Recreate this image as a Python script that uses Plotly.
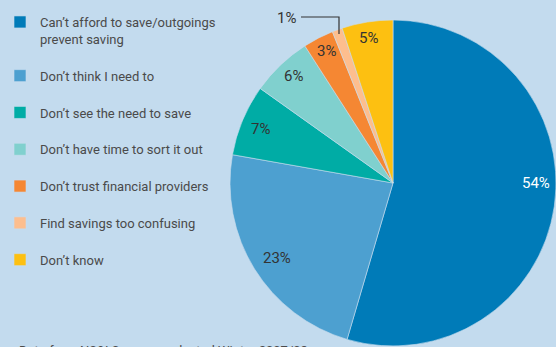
import plotly.graph_objects as go

# ---- data ----
categories = [
    "Can\u2019t afford to save/outgoings<br>prevent saving",
    "Don\u2019t think I need to",
    "Don\u2019t see the need to save",
    "Don\u2019t have time to sort it out",
    "Don\u2019t trust financial providers",
    "Find savings too confusing",
    "Don\u2019t know",
]
values = [54, 23, 7, 6, 3, 1, 5]
value_labels = ["54%", "23%", "7%", "6%", "3%", "1%", "5%"]

# ---- style ----
colors = ["#007BB8", "#4DA0D0", "#00ACA5", "#80D0CE", "#F58733", "#FDBE8E", "#FDC011"]
bg = "#C3DBEE"
W, H = 556, 347
FONT = "Roboto, sans-serif"

# pixel positions of value labels (text placement only)
label_px = [(536, 183), (277, 258), (260, 129), (293, 76), (326, 51), (286, 18), (368, 38)]
label_colors = ["white", "#333333", "#333333", "#333333", "#333333", "#333333", "#333333"]

fig = go.Figure(
    go.Pie(
        labels=[c + "<br> " for c in categories],
        values=values,
        sort=False,
        direction="clockwise",
        rotation=0,
        marker=dict(colors=colors, line=dict(color="#C9DEEE", width=0.6)),
        textinfo="none",
        hoverinfo="label+percent",
        domain=dict(x=[230 / W, 1], y=[1 / H, 327 / H]),
    )
)

annotations = []
for (px, py), t, c in zip(label_px, value_labels, label_colors):
    annotations.append(
        dict(
            x=px / W, y=1 - py / H, xref="paper", yref="paper",
            text=t, showarrow=False, xanchor="center", yanchor="middle",
            font=dict(family=FONT, size=15, color=c),
        )
    )
annotations.append(
    dict(
        x=17 / W, y=(H - 341) / H, xref="paper", yref="paper",
        text="Data from NS&I Survey conducted Winter 2007/08", showarrow=False,
        xanchor="left", yanchor="top",
        font=dict(family=FONT, size=13, color="#4A4A4A"),
    )
)

# leader line for the 1% label
shapes = [
    dict(
        type="path", xref="paper", yref="paper",
        path=f"M {301 / W} {1 - 17 / H} L {339 / W} {1 - 17 / H} L {339 / W} {1 - 34 / H}",
        line=dict(color="#333333", width=1.2),
    )
]

fig.update_layout(
    width=W, height=H,
    margin=dict(l=0, r=0, t=0, b=0),
    paper_bgcolor=bg, plot_bgcolor=bg,
    showlegend=True,
    legend=dict(
        x=0, y=1 - 7 / H, xanchor="left", yanchor="top",
        bgcolor="rgba(0,0,0,0)",
        font=dict(family=FONT, size=13, color="#4A4A4A"),
        valign="top",
        traceorder="normal",
    ),
    annotations=annotations,
    shapes=shapes,
)

fig.write_html("out.html")
